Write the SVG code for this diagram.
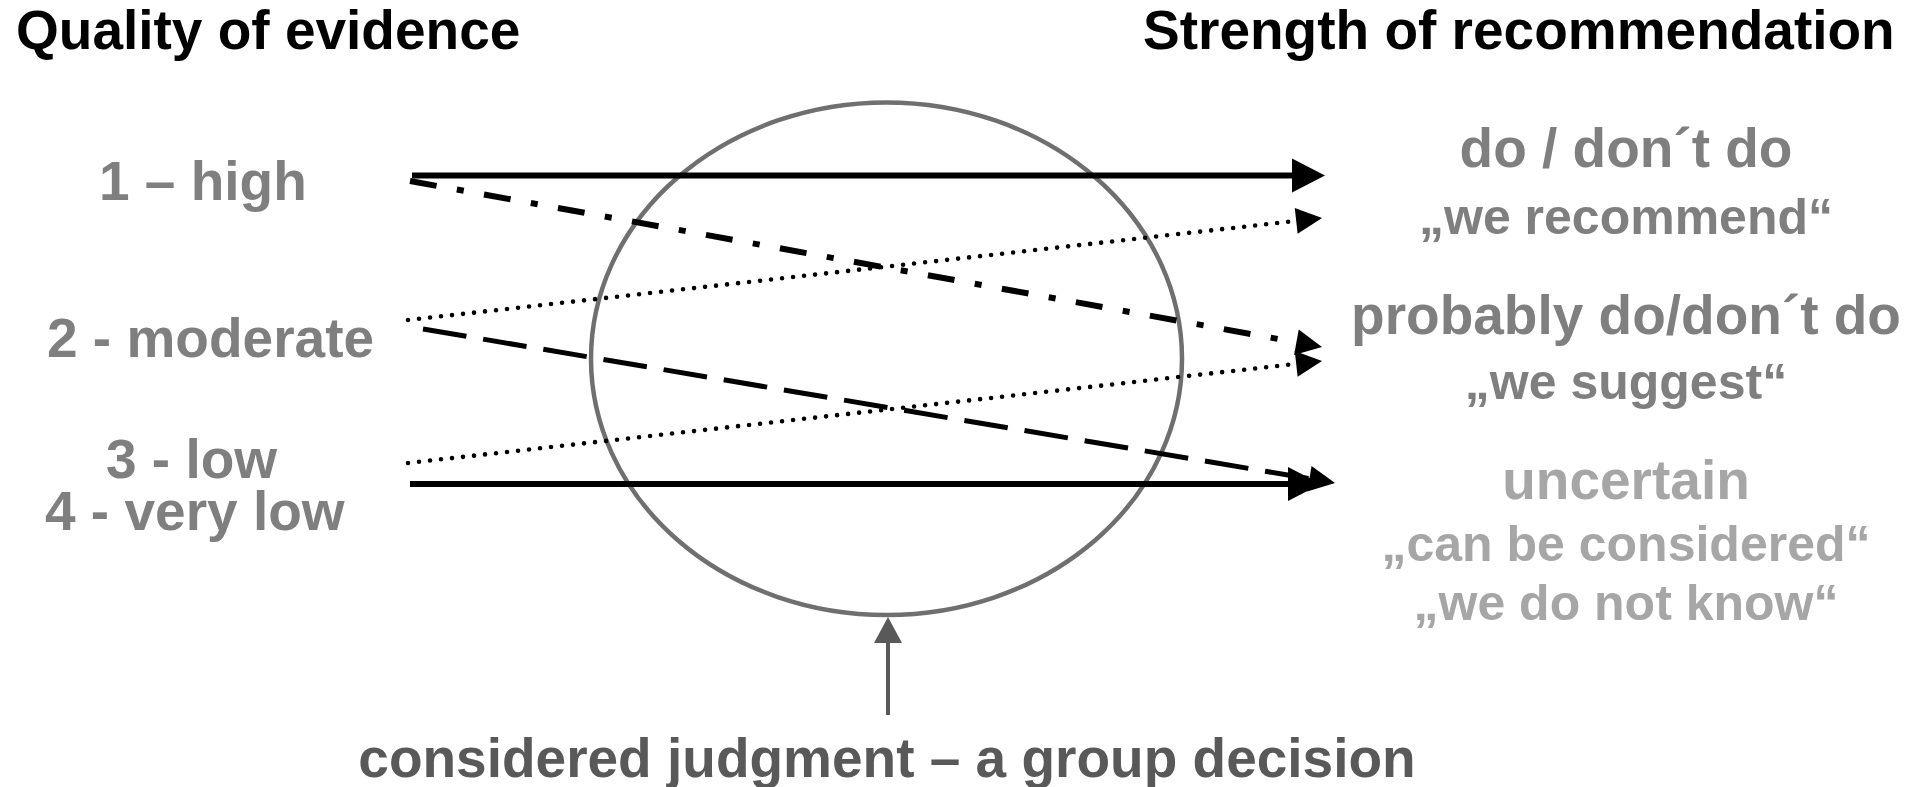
<svg xmlns="http://www.w3.org/2000/svg" width="1923" height="787" viewBox="0 0 1923 787">
<defs>
<style>
text{font-family:"Liberation Sans",Arial,sans-serif;font-weight:bold;}
.hdr{font-size:55px;fill:#000;}
.lvl{font-size:55px;fill:#7f7f7f;}
.rec{font-size:55px;fill:#7f7f7f;text-anchor:middle;}
.q{font-size:50px;fill:#7f7f7f;text-anchor:middle;}
.unc{font-size:55px;fill:#a6a6a6;text-anchor:middle;}
.uq{font-size:50px;fill:#a6a6a6;text-anchor:middle;}
.foot{font-size:55px;fill:#595959;text-anchor:middle;}
.solid{stroke:#000;stroke-width:6;fill:none;}
.dashdot{stroke:#000;stroke-width:6;fill:none;stroke-dasharray:27 20.6 7 20.6;}
.dotted{stroke:#000;stroke-width:4.6;fill:none;stroke-dasharray:0 11.07;stroke-linecap:round;}
.dashed{stroke:#000;stroke-width:5;fill:none;stroke-dasharray:44 17;}
</style>
<marker id="bigHead" markerUnits="userSpaceOnUse" markerWidth="34" markerHeight="34" refX="0" refY="17" orient="auto" overflow="visible">
<path d="M0,0 L33,17 L0,34 z" fill="#000"/>
</marker>
<marker id="smallHead" markerUnits="userSpaceOnUse" markerWidth="26" markerHeight="26" refX="0" refY="13" orient="auto" overflow="visible">
<path d="M0,0 L26,13 L0,26 z" fill="#000"/>
</marker>
<marker id="grayHead" markerUnits="userSpaceOnUse" markerWidth="29" markerHeight="29" refX="0" refY="14" orient="auto" overflow="visible">
<path d="M0,0 L26,14 L0,28 z" fill="#595959"/>
</marker>
</defs>
<rect x="0" y="0" width="1923" height="787" fill="#fff"/>

<g id="header-quality"><text class="hdr" x="16" y="49">Quality of evidence</text></g>
<g id="header-strength"><text class="hdr" x="1143" y="49">Strength of recommendation</text></g>

<g id="level-high"><text class="lvl" x="99" y="200">1 – high</text></g>
<g id="level-moderate"><text class="lvl" x="47" y="357">2 - moderate</text></g>
<g id="level-low"><text class="lvl" x="106" y="478">3 - low</text><text class="lvl" x="45" y="530">4 - very low</text></g>

<g id="rec-strong"><text class="rec" x="1626" y="167">do / don´t do</text><text class="q" x="1626" y="234">„we recommend“</text></g>
<g id="rec-weak"><text class="rec" x="1626" y="334">probably do/don´t do</text><text class="q" x="1626" y="399">„we suggest“</text></g>
<g id="rec-uncertain"><text class="unc" x="1626" y="499">uncertain</text><text class="uq" x="1626" y="561">„can be considered“</text><text class="uq" x="1626" y="620">„we do not know“</text></g>

<g id="judgment-ellipse"><ellipse cx="886.5" cy="358.75" rx="295.5" ry="256.25" fill="none" stroke="#6f6f6f" stroke-width="4.5"/></g>

<g id="judgment-label"><text class="foot" x="887" y="777">considered judgment – a group decision</text></g>

<g id="connectors">
<line class="solid" x1="412" y1="175.5" x2="1292" y2="175.5" marker-end="url(#bigHead)"/>
<line class="dashdot" x1="410" y1="181" x2="1296.4" y2="342.3" marker-end="url(#smallHead)"/>
<line class="dotted" x1="408" y1="320" x2="1296.2" y2="220.9" marker-end="url(#smallHead)"/>
<line class="dashed" x1="423" y1="329" x2="1309.4" y2="478.7" marker-end="url(#smallHead)"/>
<line class="dotted" x1="408" y1="463" x2="1296.2" y2="363.9" marker-end="url(#smallHead)"/>
<line class="solid" x1="410" y1="484" x2="1288" y2="484" marker-end="url(#bigHead)"/>
<line x1="888" y1="715" x2="888" y2="643" stroke="#595959" stroke-width="4" marker-end="url(#grayHead)"/>
</g>
</svg>
